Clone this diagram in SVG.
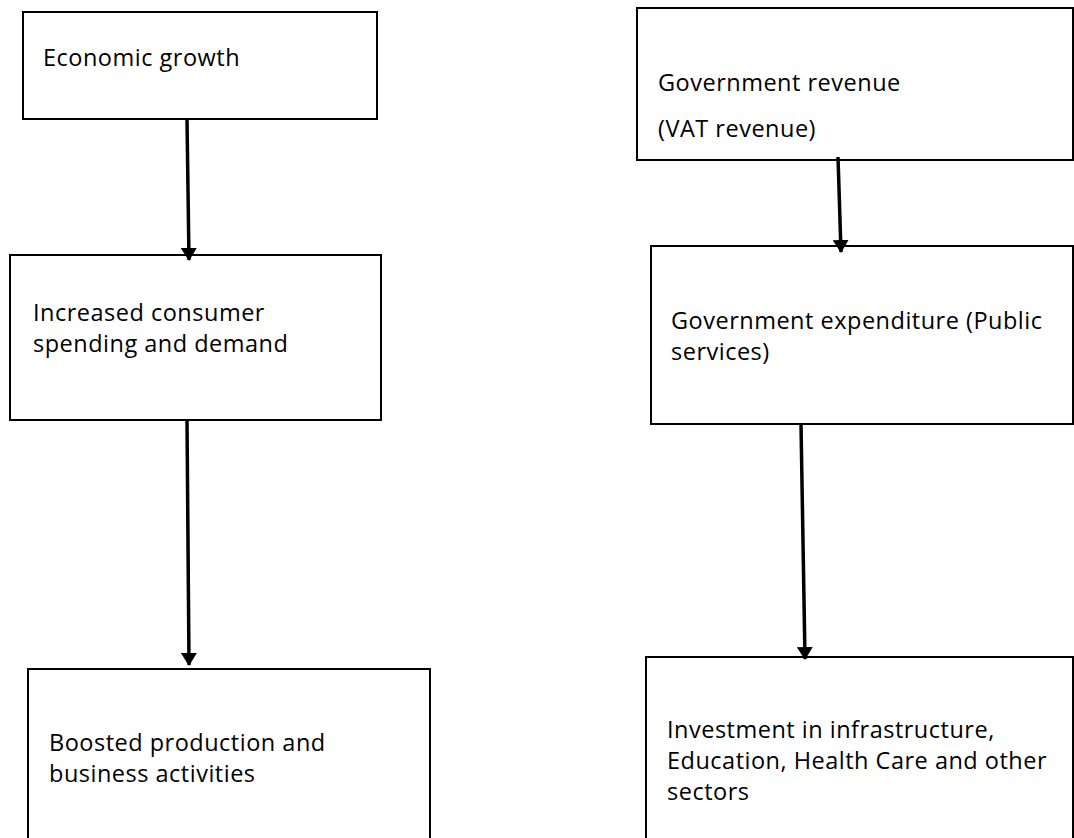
<svg xmlns="http://www.w3.org/2000/svg" width="1074" height="838" viewBox="0 0 1074 838">
  <style>
    .box { fill: #ffffff; stroke: #000000; stroke-width: 2; }
    .lbl { font-family: "Open Sans", "Liberation Sans", sans-serif; font-size: 23.5px; letter-spacing: 0.5px; fill: #000000; }
    .link { stroke: #000000; stroke-width: 3.5; fill: none; marker-end: url(#arrow); }
  </style>
  <defs>
    <marker id="arrow" markerUnits="userSpaceOnUse" markerWidth="14" markerHeight="16" refX="12" refY="8" orient="auto">
      <path d="M0,0 L13,8 L0,16 Z" fill="#000000"/>
    </marker>
  </defs>
  <rect width="1074" height="838" fill="#ffffff"/>

  <g id="economic-growth">
    <rect class="box" x="23" y="12" width="354" height="107"/>
    <text class="lbl" x="43" y="66">Economic growth</text>
  </g>

  <g id="consumer-spending">
    <rect class="box" x="10" y="255" width="371" height="165"/>
    <text class="lbl" x="33" y="321">Increased consumer</text>
    <text class="lbl" x="33" y="352">spending and demand</text>
  </g>

  <g id="business-activities">
    <rect class="box" x="28" y="669" width="402" height="180"/>
    <text class="lbl" x="49" y="751">Boosted production and</text>
    <text class="lbl" x="49" y="782">business activities</text>
  </g>

  <g id="government-revenue">
    <rect class="box" x="637" y="8" width="436" height="152"/>
    <text class="lbl" x="658" y="91">Government revenue</text>
    <text class="lbl" x="658" y="137">(VAT revenue)</text>
  </g>

  <g id="government-expenditure">
    <rect class="box" x="651" y="246" width="422" height="178"/>
    <text class="lbl" x="671" y="329">Government expenditure (Public</text>
    <text class="lbl" x="671" y="360">services)</text>
  </g>

  <g id="investment">
    <rect class="box" x="646" y="657" width="427" height="190"/>
    <text class="lbl" x="667" y="738">Investment in infrastructure,</text>
    <text class="lbl" x="667" y="769">Education, Health Care and other</text>
    <text class="lbl" x="667" y="800">sectors</text>
  </g>

  <g id="connectors">
    <line class="link" x1="187" y1="119" x2="189" y2="260"/>
    <line class="link" x1="187" y1="420" x2="189" y2="665"/>
    <line class="link" x1="838" y1="157" x2="841" y2="252"/>
    <line class="link" x1="801" y1="424" x2="805" y2="659"/>
  </g>
</svg>
